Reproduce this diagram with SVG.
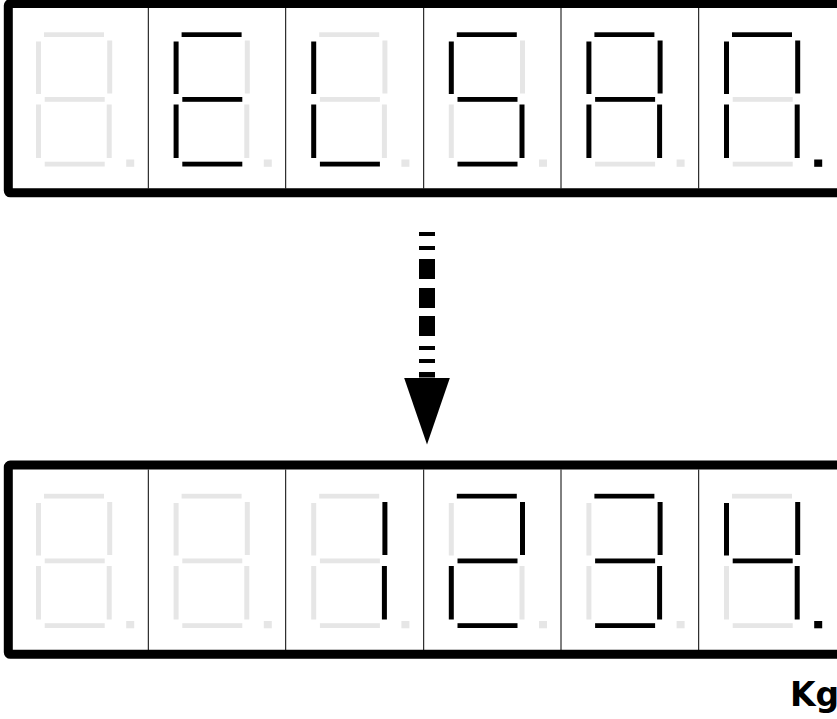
<svg xmlns="http://www.w3.org/2000/svg" width="837" height="719" viewBox="0 0 837 719">
<style>
.frame{fill:#fff;stroke:#000;stroke-width:9}
.div{stroke:#000;stroke-width:1}
.on{fill:#000}
.off{fill:#e6e6e6}
.lbl{font-family:"DejaVu Sans","Liberation Sans",Arial,sans-serif;font-weight:bold;font-size:33px;fill:#000}
</style>
<defs>
<marker id="ah" markerUnits="userSpaceOnUse" viewBox="0 0 67 46" markerWidth="67" markerHeight="46" refX="0" refY="23" orient="auto">
<path d="M0,0 L67,23 L0,46 Z" fill="#000"/>
</marker>
</defs>
<rect width="837" height="719" fill="#fff"/>

<g id="display-top">
<rect class="frame" x="8.3" y="3.5" width="845" height="189.3" rx="2"/>
<line class="div" x1="148.3" y1="8" x2="148.3" y2="188.5"/>
<line class="div" x1="285.7" y1="8" x2="285.7" y2="188.5"/>
<line class="div" x1="423.7" y1="8" x2="423.7" y2="188.5"/>
<line class="div" x1="561" y1="8" x2="561" y2="188.5"/>
<line class="div" x1="698.7" y1="8" x2="698.7" y2="188.5"/>

<g id="top-d1" transform="translate(10.7,0)">
<rect class="off" x="33.3" y="32.3" width="60" height="4.7"/>
<rect class="off" x="25.3" y="41.5" width="5" height="52.5"/>
<rect class="off" x="96.5" y="40.5" width="5" height="53"/>
<rect class="off" x="34" y="97" width="60" height="4.8"/>
<rect class="off" x="25.3" y="104.5" width="5" height="53.5"/>
<rect class="off" x="96" y="104.5" width="5" height="53.5"/>
<rect class="off" x="34" y="161.7" width="60" height="4.8"/>
<rect class="off" x="115.5" y="159.5" width="8" height="7.3"/>
</g>
<g id="top-d2" transform="translate(148.3,0)">
<rect class="on" x="33.3" y="32.3" width="60" height="4.7"/>
<rect class="on" x="25.3" y="41.5" width="5" height="52.5"/>
<rect class="off" x="96.5" y="40.5" width="5" height="53"/>
<rect class="on" x="34" y="97" width="60" height="4.8"/>
<rect class="on" x="25.3" y="104.5" width="5" height="53.5"/>
<rect class="off" x="96" y="104.5" width="5" height="53.5"/>
<rect class="on" x="34" y="161.7" width="60" height="4.8"/>
<rect class="off" x="115.5" y="159.5" width="8" height="7.3"/>
</g>
<g id="top-d3" transform="translate(285.9,0)">
<rect class="off" x="33.3" y="32.3" width="60" height="4.7"/>
<rect class="on" x="25.3" y="41.5" width="5" height="52.5"/>
<rect class="off" x="96.5" y="40.5" width="5" height="53"/>
<rect class="off" x="34" y="97" width="60" height="4.8"/>
<rect class="on" x="25.3" y="104.5" width="5" height="53.5"/>
<rect class="off" x="96" y="104.5" width="5" height="53.5"/>
<rect class="on" x="34" y="161.7" width="60" height="4.8"/>
<rect class="off" x="115.5" y="159.5" width="8" height="7.3"/>
</g>
<g id="top-d4" transform="translate(423.5,0)">
<rect class="on" x="33.3" y="32.3" width="60" height="4.7"/>
<rect class="on" x="25.3" y="41.5" width="5" height="52.5"/>
<rect class="off" x="96.5" y="40.5" width="5" height="53"/>
<rect class="on" x="34" y="97" width="60" height="4.8"/>
<rect class="off" x="25.3" y="104.5" width="5" height="53.5"/>
<rect class="on" x="96" y="104.5" width="5" height="53.5"/>
<rect class="on" x="34" y="161.7" width="60" height="4.8"/>
<rect class="off" x="115.5" y="159.5" width="8" height="7.3"/>
</g>
<g id="top-d5" transform="translate(561.1,0)">
<rect class="on" x="33.3" y="32.3" width="60" height="4.7"/>
<rect class="on" x="25.3" y="41.5" width="5" height="52.5"/>
<rect class="on" x="96.5" y="40.5" width="5" height="53"/>
<rect class="on" x="34" y="97" width="60" height="4.8"/>
<rect class="on" x="25.3" y="104.5" width="5" height="53.5"/>
<rect class="on" x="96" y="104.5" width="5" height="53.5"/>
<rect class="off" x="34" y="161.7" width="60" height="4.8"/>
<rect class="off" x="115.5" y="159.5" width="8" height="7.3"/>
</g>
<g id="top-d6" transform="translate(698.7,0)">
<rect class="on" x="33.3" y="32.3" width="60" height="4.7"/>
<rect class="on" x="25.3" y="41.5" width="5" height="52.5"/>
<rect class="on" x="96.5" y="40.5" width="5" height="53"/>
<rect class="off" x="34" y="97" width="60" height="4.8"/>
<rect class="on" x="25.3" y="104.5" width="5" height="53.5"/>
<rect class="on" x="96" y="104.5" width="5" height="53.5"/>
<rect class="off" x="34" y="161.7" width="60" height="4.8"/>
<rect class="on" x="115.5" y="159.5" width="8" height="7.3"/>
</g>
</g>

<g id="display-bottom" transform="translate(0,461.5)">
<rect class="frame" x="8.3" y="3.5" width="845" height="189.3" rx="2"/>
<line class="div" x1="148.3" y1="8" x2="148.3" y2="188.5"/>
<line class="div" x1="285.7" y1="8" x2="285.7" y2="188.5"/>
<line class="div" x1="423.7" y1="8" x2="423.7" y2="188.5"/>
<line class="div" x1="561" y1="8" x2="561" y2="188.5"/>
<line class="div" x1="698.7" y1="8" x2="698.7" y2="188.5"/>

<g id="bot-d1" transform="translate(10.7,0)">
<rect class="off" x="33.3" y="32.3" width="60" height="4.7"/>
<rect class="off" x="25.3" y="41.5" width="5" height="52.5"/>
<rect class="off" x="96.5" y="40.5" width="5" height="53"/>
<rect class="off" x="34" y="97" width="60" height="4.8"/>
<rect class="off" x="25.3" y="104.5" width="5" height="53.5"/>
<rect class="off" x="96" y="104.5" width="5" height="53.5"/>
<rect class="off" x="34" y="161.7" width="60" height="4.8"/>
<rect class="off" x="115.5" y="159.5" width="8" height="7.3"/>
</g>
<g id="bot-d2" transform="translate(148.3,0)">
<rect class="off" x="33.3" y="32.3" width="60" height="4.7"/>
<rect class="off" x="25.3" y="41.5" width="5" height="52.5"/>
<rect class="off" x="96.5" y="40.5" width="5" height="53"/>
<rect class="off" x="34" y="97" width="60" height="4.8"/>
<rect class="off" x="25.3" y="104.5" width="5" height="53.5"/>
<rect class="off" x="96" y="104.5" width="5" height="53.5"/>
<rect class="off" x="34" y="161.7" width="60" height="4.8"/>
<rect class="off" x="115.5" y="159.5" width="8" height="7.3"/>
</g>
<g id="bot-d3" transform="translate(285.9,0)">
<rect class="off" x="33.3" y="32.3" width="60" height="4.7"/>
<rect class="off" x="25.3" y="41.5" width="5" height="52.5"/>
<rect class="on" x="96.5" y="40.5" width="5" height="53"/>
<rect class="off" x="34" y="97" width="60" height="4.8"/>
<rect class="off" x="25.3" y="104.5" width="5" height="53.5"/>
<rect class="on" x="96" y="104.5" width="5" height="53.5"/>
<rect class="off" x="34" y="161.7" width="60" height="4.8"/>
<rect class="off" x="115.5" y="159.5" width="8" height="7.3"/>
</g>
<g id="bot-d4" transform="translate(423.5,0)">
<rect class="on" x="33.3" y="32.3" width="60" height="4.7"/>
<rect class="off" x="25.3" y="41.5" width="5" height="52.5"/>
<rect class="on" x="96.5" y="40.5" width="5" height="53"/>
<rect class="on" x="34" y="97" width="60" height="4.8"/>
<rect class="on" x="25.3" y="104.5" width="5" height="53.5"/>
<rect class="off" x="96" y="104.5" width="5" height="53.5"/>
<rect class="on" x="34" y="161.7" width="60" height="4.8"/>
<rect class="off" x="115.5" y="159.5" width="8" height="7.3"/>
</g>
<g id="bot-d5" transform="translate(561.1,0)">
<rect class="on" x="33.3" y="32.3" width="60" height="4.7"/>
<rect class="off" x="25.3" y="41.5" width="5" height="52.5"/>
<rect class="on" x="96.5" y="40.5" width="5" height="53"/>
<rect class="on" x="34" y="97" width="60" height="4.8"/>
<rect class="off" x="25.3" y="104.5" width="5" height="53.5"/>
<rect class="on" x="96" y="104.5" width="5" height="53.5"/>
<rect class="on" x="34" y="161.7" width="60" height="4.8"/>
<rect class="off" x="115.5" y="159.5" width="8" height="7.3"/>
</g>
<g id="bot-d6" transform="translate(698.7,0)">
<rect class="off" x="33.3" y="32.3" width="60" height="4.7"/>
<rect class="on" x="25.3" y="41.5" width="5" height="52.5"/>
<rect class="on" x="96.5" y="40.5" width="5" height="53"/>
<rect class="on" x="34" y="97" width="60" height="4.8"/>
<rect class="off" x="25.3" y="104.5" width="5" height="53.5"/>
<rect class="on" x="96" y="104.5" width="5" height="53.5"/>
<rect class="off" x="34" y="161.7" width="60" height="4.8"/>
<rect class="on" x="115.5" y="159.5" width="8" height="7.3"/>
</g>
</g>

<g id="connectors">
<path d="M427,232 L427,377.5" fill="none" stroke="#000" stroke-width="16" stroke-dasharray="4 10 4 9 20 9 20 8 20 10 4 9 4 9 20" marker-end="url(#ah)"/>
</g>

<g id="unit-label">
<text class="lbl" x="790" y="706">Kg</text>
</g>
</svg>
